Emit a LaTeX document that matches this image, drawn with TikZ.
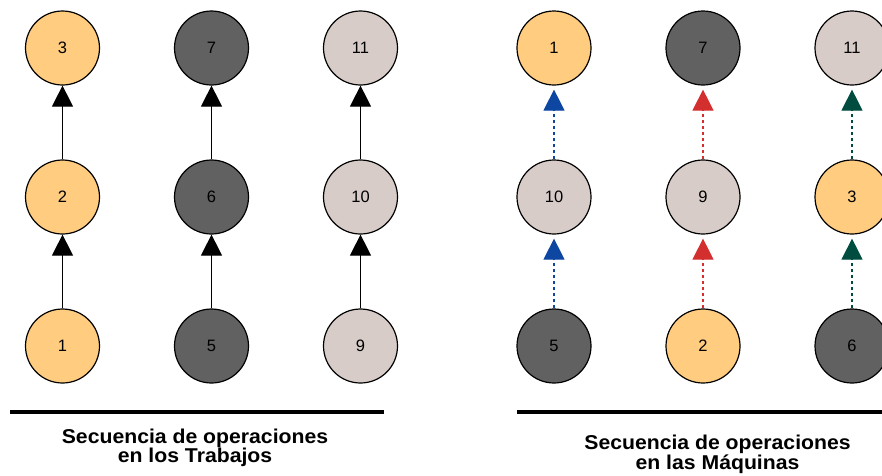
\documentclass[tikz,border=0pt]{standalone}
\usepackage{fontspec}
\setmainfont{Liberation Sans}
\newfontfamily\widesans[FakeStretch=1.06]{Liberation Sans}
\usetikzlibrary{arrows.meta}
\definecolor{jobA}{HTML}{FFCC80}
\definecolor{jobB}{HTML}{616161}
\definecolor{jobC}{HTML}{D7CCC8}
\definecolor{machA}{HTML}{0D47A1}
\definecolor{machB}{HTML}{D32F2F}
\definecolor{machC}{HTML}{004D40}
\tikzset{
  op/.style={circle, draw=black, line width=1.2pt, minimum size=74pt, inner sep=0pt,
    font=\fontsize{16.5}{18}\selectfont},
  opA/.style={op, fill=jobA},
  opB/.style={op, fill=jobB},
  opC/.style={op, fill=jobC},
  jobarrow/.style={line width=1.2pt, -{Triangle[width=21pt,length=21pt]}},
  macharrow/.style={line width=1.2pt, dash pattern=on 3pt off 3pt,
    -{Triangle[width=21pt,length=21pt,sep=4pt]}},
  rulebar/.style={line width=4pt},
  caption/.style={anchor=base, inner sep=0pt, font=\widesans\bfseries\fontsize{20}{20}\selectfont}
}
\begin{document}
\begin{tikzpicture}[x=1pt, y=-1pt]
\useasboundingbox (0,0) rectangle (882,475);
% Sequence of operations within each job
\node[opA] (j3)  at (62.5,48)  {3};
\node[opA] (j2)  at (62.5,197) {2};
\node[opA] (j1)  at (62.5,346) {1};
\node[opB] (j7)  at (211.5,48)  {7};
\node[opB] (j6)  at (211.5,197) {6};
\node[opB] (j5)  at (211.5,346) {5};
\node[opC] (j11) at (360.5,48)  {11};
\node[opC] (j10) at (360.5,197) {10};
\node[opC] (j9)  at (360.5,346) {9};
\foreach \a/\b in {j1/j2, j2/j3, j5/j6, j6/j7, j9/j10, j10/j11}
  \draw[jobarrow] (\a.north) -- (\b.south);
\coordinate (lruleL) at (10,412);
\coordinate (lruleR) at (384,412);
\draw[rulebar] (lruleL) -- (lruleR);
\node[caption] (lcap1) at (195,443) {Secuencia de operaciones};
\node[caption] (lcap2) at (195,462.5) {en los Trabajos};
% Sequence of operations on each machine
\node[opA] (m1)  at (554,48)  {1};
\node[opC] (m10) at (554,197) {10};
\node[opB] (m5)  at (554,346) {5};
\node[opB] (m7)  at (703,48)  {7};
\node[opC] (m9)  at (703,197) {9};
\node[opA] (m2)  at (703,346) {2};
\node[opC] (m11) at (852,48)  {11};
\node[opA] (m3)  at (852,197) {3};
\node[opB] (m6)  at (852,346) {6};
\draw[macharrow, machA] (m5.north) -- (m10.south);
\draw[macharrow, machA] (m10.north) -- (m1.south);
\draw[macharrow, machB] (m2.north) -- (m9.south);
\draw[macharrow, machB] (m9.north) -- (m7.south);
\draw[macharrow, machC] (m6.north) -- (m3.south);
\draw[macharrow, machC] (m3.north) -- (m11.south);
\coordinate (rruleL) at (517,412);
\coordinate (rruleR) at (890,412);
\draw[rulebar] (rruleL) -- (rruleR);
\node[caption] (rcap1) at (717.5,449) {Secuencia de operaciones};
\node[caption] (rcap2) at (717.5,469) {en las Máquinas};
\end{tikzpicture}
\end{document}
